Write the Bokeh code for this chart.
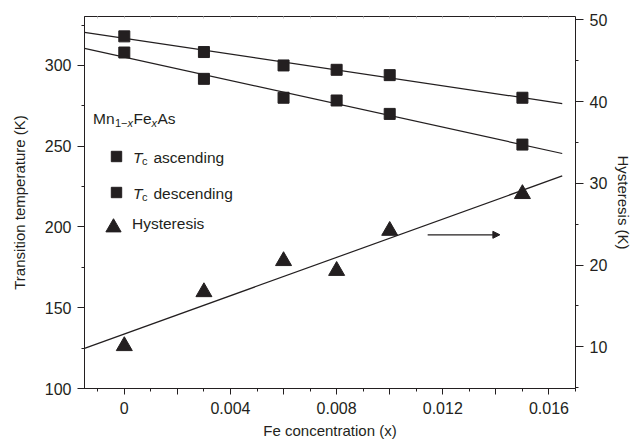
from bokeh.plotting import figure
from bokeh.models import (Range1d, LinearAxis, SingleIntervalTicker, CustomJSTickFormatter,
                          Label, Arrow, NormalHead, Legend, LegendItem)
from bokeh.embed import file_html
from bokeh.resources import INLINE

# ---------------- data ----------------
fe_x = [0.0, 0.003, 0.006, 0.008, 0.010, 0.015]
tc_ascending = [318.0, 308.3, 300.0, 297.3, 294.0, 280.0]
tc_descending = [308.0, 291.7, 280.0, 278.3, 270.0, 251.0]
hysteresis = [10.1, 16.7, 20.5, 19.3, 24.2, 28.7]

fit_x = [-0.0015, 0.0165]
fit_ascending = [320.5, 276.4]
fit_descending = [310.6, 245.5]
fit_hysteresis = [9.8, 30.9]

arrow_x = [0.01143, 0.01415]
arrow_y = [23.7, 23.7]

x_limits = [-0.0015, 0.017]
temp_limits = [100, 330.3]
hyst_limits = [4.9, 50.4]

INK = "#231f20"
FONT = "Liberation Sans"

W, H = 637, 443
FL, FT, FR, FB = 84, 16, 575, 388   # frame in page px

p = figure(width=W, height=H, output_backend="svg", toolbar_location=None,
           x_range=Range1d(*x_limits), y_range=Range1d(*temp_limits),
           min_border_left=FL, min_border_top=FT,
           min_border_right=W - FR, min_border_bottom=H - FB)
p.extra_y_ranges = {"hyst": Range1d(*hyst_limits)}
p.grid.visible = False
p.outline_line_color = INK
p.outline_line_width = 1
p.background_fill_color = "white"
p.border_fill_color = "white"


def style_axis(ax, tick_out, minor_out, standoff, label_standoff):
    ax.axis_line_color = INK
    ax.axis_line_width = 1
    ax.major_tick_line_color = INK
    ax.minor_tick_line_color = INK
    ax.major_tick_in = 0
    ax.major_tick_out = tick_out
    ax.minor_tick_in = 0
    ax.minor_tick_out = minor_out
    ax.major_label_text_font = FONT
    ax.major_label_text_font_size = "16px"
    ax.major_label_text_color = INK
    ax.major_label_standoff = standoff
    ax.axis_label_text_font = FONT
    ax.axis_label_text_font_size = "15px"
    ax.axis_label_text_font_style = "normal"
    ax.axis_label_text_color = INK
    ax.axis_label_standoff = label_standoff


# x axis
xax = p.xaxis[0]
xax.ticker = SingleIntervalTicker(interval=0.002, num_minor_ticks=2)
xax.formatter = CustomJSTickFormatter(code="""
    const k = Math.round(tick / 0.002);
    if (k % 2 != 0) return "";
    if (k == 0) return "0";
    return tick.toFixed(3);
""")
xax.axis_label = "Fe concentration (x)"
style_axis(xax, 6, 3, 7, 5)

# faint inner ticks along the top edge
tax = LinearAxis(ticker=SingleIntervalTicker(interval=0.001, num_minor_ticks=0),
                 major_label_text_font_size="0px", major_label_text_alpha=0,
                 axis_line_alpha=0, major_tick_in=2, major_tick_out=0,
                 major_tick_line_color="#c8c8c8", minor_tick_line_alpha=0,
                 major_label_standoff=0)
p.add_layout(tax, "above")

# left axis
yax = p.yaxis[0]
yax.ticker = SingleIntervalTicker(interval=50, num_minor_ticks=2)
yax.axis_label = "Transition temperature (K)"
style_axis(yax, 7, 3, 6, 14)

# right axis
rax = LinearAxis(y_range_name="hyst", axis_label="Hysteresis (K)",
                 ticker=SingleIntervalTicker(interval=10, num_minor_ticks=2))
style_axis(rax, 8, 3, 6, 5)
p.add_layout(rax, "right")

# fit lines
p.line(fit_x, fit_ascending, line_color=INK, line_width=1.2)
p.line(fit_x, fit_descending, line_color=INK, line_width=1.2)
p.line(fit_x, fit_hysteresis, line_color=INK, line_width=1.2, y_range_name="hyst")

# markers
r_asc = p.scatter(fe_x, tc_ascending, marker="square", size=11, color=INK)
r_desc = p.scatter(fe_x, tc_descending, marker="square", size=11, color=INK)
r_hyst = p.scatter(fe_x, hysteresis, marker="triangle", size=16, color=INK,
                   y_range_name="hyst")

# arrow pointing to right axis
p.add_layout(Arrow(end=NormalHead(size=7, fill_color=INK, line_color=INK),
                   x_start=arrow_x[0], x_end=arrow_x[1],
                   y_start=arrow_y[0], y_end=arrow_y[1],
                   line_color=INK, line_width=1.2, y_range_name="hyst"))


def legend_box(renderers, glyph, spacing, loc):
    lg = Legend(items=[LegendItem(label=" ", renderers=[r]) for r in renderers],
                location=loc, glyph_width=glyph, glyph_height=glyph,
                label_height=1, label_text_font_size="1px", label_width=1,
                spacing=spacing, padding=0, margin=0,
                border_line_alpha=0, background_fill_alpha=0)
    p.add_layout(lg, "center")


legend_box([r_asc, r_desc], 26, 10, (19, 183))
legend_box([r_hyst], 38, 0, (10, 142))

TEXT_DY = -5


def txt(s, px, py, size="15px", style="normal"):
    # positions given in page px, converted to frame-relative screen units
    p.add_layout(Label(x=px - FL, y=FB - (py + TEXT_DY), x_units="screen", y_units="screen",
                       text=s, text_font=FONT, text_font_size=size,
                       text_font_style=style, text_color=INK,
                       text_baseline="alphabetic", text_align="left"))


# Mn1-xFexAs
txt("Mn", 92.5, 123, "15.5px")
txt("1\u2212", 114.5, 127, "11px")
txt("x", 127, 127, "11px", "italic")
txt("Fe", 133, 123, "15.5px")
txt("x", 151, 127, "11px", "italic")
txt("As", 157, 123, "15.5px")

# Tc ascending / descending
for base, word in [(162, "ascending"), (198, "descending")]:
    txt("T", 132.5, base, "15.5px", "italic")
    txt("c", 141.5, base + 3.5, "11px")
    txt(word, 153, base, "15.5px")

txt("Hysteresis", 131.5, 228, "15.5px")

open("out.html", "w").write(file_html(p, INLINE))
